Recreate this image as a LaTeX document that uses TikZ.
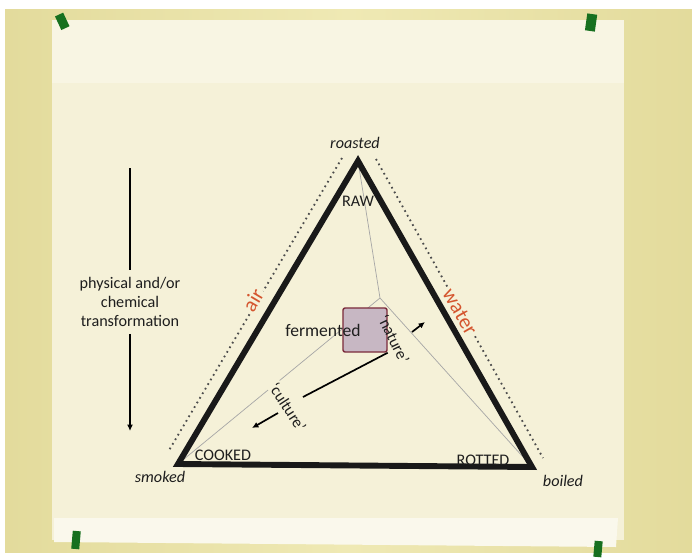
\documentclass[tikz,border=0pt]{standalone}
\usepackage{fontspec}
\setmainfont{Carlito}
\usetikzlibrary{arrows.meta}
\definecolor{wall}{HTML}{EFE9B4}
\definecolor{wallshade}{HTML}{E3DB9C}
\definecolor{paper}{HTML}{F5F1D8}
\definecolor{paperband}{HTML}{F8F5E3}
\definecolor{paperfold}{HTML}{FAF8EC}
\definecolor{tape}{HTML}{17701F}
\definecolor{elem}{HTML}{D4552E}
\definecolor{boxfill}{HTML}{C7B7C3}
\definecolor{boxline}{HTML}{7B2B3B}
\definecolor{ink}{HTML}{1E1E1E}

\begin{document}
\begin{tikzpicture}[x=0.025cm, y=-0.025cm, every node/.style={font=\fontsize{11.5}{13.5}\selectfont, text=ink}, >={Latex[length=1.6mm, width=1.5mm]}]
	\fill[white] (0,0) rectangle (692,552);
	\shade[left color=wallshade, right color=wallshade, middle color=wall] (5,9) rectangle (692,552);
	\fill[paper] (52,20) rectangle (624,540);
	\fill[paperband] (52,20) rectangle (624,83);
	\fill[paperfold] (54,518) -- (618,518) -- (616,547) -- (54,542) -- cycle;
	\fill[tape, rotate around={25:(62,22)}] (58,14) rectangle (67,29);
	\fill[tape, rotate around={-8:(591,23)}] (586,14) rectangle (596,31);
	\fill[tape, rotate around={-5:(76,540)}] (72,531) rectangle (80,549);
	\fill[tape, rotate around={-5:(598,549)}] (594,541) rectangle (602,557);

	\coordinate (roast) at (358,161);
	\coordinate (smoke) at (178,464);
	\coordinate (boil) at (532,467);
	\coordinate (mid) at (380,298);
	\draw[line width=0.5pt, black!35] (roast) -- (mid) -- (smoke) (mid) -- (boil);
	\draw[black!70, line width=1.3pt, dash pattern=on 1.2pt off 2.6pt] (342,158) -- (168,452);
	\draw[black!70, line width=1.3pt, dash pattern=on 1.2pt off 2.6pt] (376,159) -- (543,458);
	\draw[line width=4.2pt, line join=miter, black!90] (roast) -- (smoke) -- (boil) -- cycle;

	\node (roasted) at (355,143) {\itshape roasted};
	\node (smoked) at (160,477) {\itshape smoked};
	\node (boiled) at (563,481) {\itshape boiled};
	\node (raw) at (358,201) {RAW};
	\node (cooked) at (223,455) {COOKED};
	\node (rotted) at (483,460) {ROTTED};
	\node[text=elem, fill=paper, inner sep=1pt, font=\fontsize{15}{17}\selectfont, rotate=59] (air) at (253,300) {air};
	\node[text=elem, fill=paper, inner sep=1pt, font=\fontsize{15}{17}\selectfont, rotate=-60] (water) at (460,312) {water};

	\node[align=center, inner sep=5pt] (transf) at (130,302) {physical and/or\\chemical\\transformation};
	\coordinate (ptop) at (130,168);
	\coordinate (pbottom) at (130,431);
	\draw[line width=1.2pt] (ptop) -- (transf.north);
	\draw[->, line width=1.2pt] (transf.south) -- (pbottom);

	\node[draw=boxline, fill=boxfill, line width=1pt, rounded corners=1.5pt, minimum size=1.1cm] (box) at (365,330) {};
	\node[font=\fontsize{12.5}{14}\selectfont] (fermented) at (323,330) {fermented};
	\node[rotate=-64, inner sep=1pt] (nature) at (394,339) {`nature'};
	\node[rotate=-57, fill=paper, inner sep=1pt] (culture) at (288,407) {`culture'};
	\coordinate (n1) at (412,332);
	\coordinate (n2) at (425,322);
	\coordinate (c1) at (303,397);
	\coordinate (c2) at (278,413);
	\coordinate (c3) at (252,428);
	\draw[->, line width=1.2pt] (n1) -- (n2);
	\draw[line width=1.2pt] (box.south east) -- (c1);
	\draw[->, line width=1.2pt] (c2) -- (c3);
\end{tikzpicture}
\end{document}
